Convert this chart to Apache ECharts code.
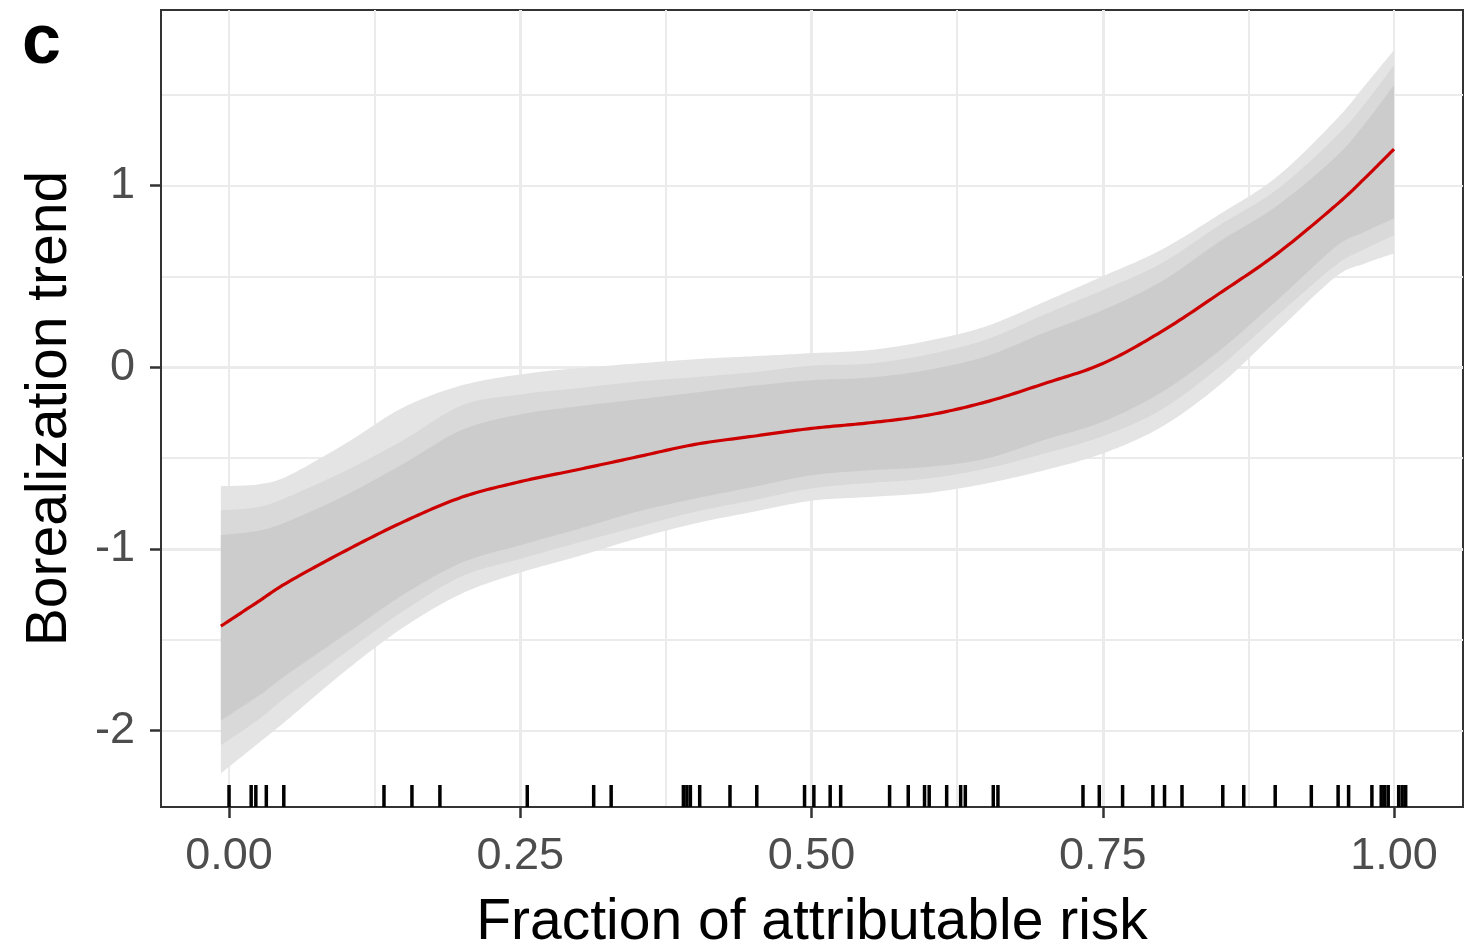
<!DOCTYPE html>
<html>
<head>
<meta charset="utf-8">
<script src="https://cdn.jsdelivr.net/npm/echarts@6/dist/echarts.min.js"></script>
<style>
html,body{margin:0;padding:0;background:#ffffff;}
#chart{width:1472px;height:952px;}
</style>
</head>
<body>
<div id="chart"></div>
<script>
// ---- data ----
const xs        = [-0.007, 0.025, 0.05, 0.1, 0.15, 0.2, 0.25, 0.3, 0.35, 0.4, 0.45, 0.5, 0.55, 0.6, 0.65, 0.7, 0.75, 0.8, 0.85, 0.9, 0.95, 0.975, 1.0];
const fit       = [-1.425, -1.29, -1.185, -1.01, -0.85, -0.715, -0.63, -0.563, -0.494, -0.425, -0.38, -0.337, -0.306, -0.264, -0.191, -0.09, 0.02, 0.194, 0.405, 0.626, 0.89, 1.04, 1.2];
const outerHigh = [-0.655, -0.645, -0.60, -0.42, -0.22, -0.10, -0.04, -0.005, 0.02, 0.044, 0.06, 0.077, 0.094, 0.145, 0.225, 0.36, 0.50, 0.645, 0.84, 1.05, 1.36, 1.55, 1.745];
const midHigh   = [-0.787, -0.77, -0.715, -0.57, -0.40, -0.21, -0.15, -0.115, -0.08, -0.055, -0.028, 0.008, 0.02, 0.07, 0.152, 0.29, 0.424, 0.57, 0.78, 0.98, 1.267, 1.45, 1.662];
const innerHigh = [-0.925, -0.90, -0.85, -0.705, -0.53, -0.345, -0.26, -0.215, -0.178, -0.14, -0.102, -0.072, -0.057, -0.015, 0.06, 0.19, 0.314, 0.47, 0.69, 0.89, 1.157, 1.34, 1.552];
const innerLow  = [-1.943, -1.81, -1.69, -1.47, -1.25, -1.075, -0.98, -0.89, -0.796, -0.723, -0.659, -0.595, -0.567, -0.549, -0.503, -0.40, -0.30, -0.14, 0.09, 0.37, 0.662, 0.745, 0.818];
const midLow    = [-2.08, -1.94, -1.81, -1.57, -1.34, -1.15, -1.055, -0.965, -0.879, -0.796, -0.732, -0.667, -0.637, -0.613, -0.558, -0.475, -0.38, -0.235, 0.0, 0.285, 0.561, 0.65, 0.726];
const outerLow  = [-2.235, -2.07, -1.94, -1.67, -1.43, -1.245, -1.13, -1.04, -0.943, -0.86, -0.796, -0.735, -0.714, -0.692, -0.64, -0.567, -0.475, -0.33, -0.10, 0.20, 0.497, 0.57, 0.626];
const rugX      = [0.000, 0.019, 0.023, 0.032, 0.047, 0.133, 0.157, 0.181, 0.256, 0.313, 0.328, 0.390, 0.393, 0.396, 0.404, 0.430, 0.453, 0.494, 0.502, 0.516, 0.525, 0.567, 0.583, 0.597, 0.601, 0.616, 0.628, 0.632, 0.656, 0.660, 0.733, 0.747, 0.767, 0.793, 0.803, 0.818, 0.853, 0.871, 0.898, 0.929, 0.952, 0.961, 0.981, 0.989, 0.992, 0.995, 1.004, 1.007, 1.010];
const xTicks    = [0, 0.25, 0.5, 0.75, 1];
const yTicks    = [-2, -1, 0, 1];
const X_MIN = -0.0584, X_MAX = 1.0592;
const Y_MIN = -2.42,   Y_MAX = 1.965;

const FONT = 'Liberation Sans, Arial, sans-serif';

// Catmull-Rom sampling in pixel space (rendering only: smooths the drawn outline)
function spline(P) {
  const out = [];
  const n = P.length;
  for (let i = 0; i < n - 1; i++) {
    const p0 = P[Math.max(i - 1, 0)], p1 = P[i], p2 = P[i + 1], p3 = P[Math.min(i + 2, n - 1)];
    const steps = 16;
    for (let s = 0; s < steps; s++) {
      const t = s / steps, t2 = t * t, t3 = t2 * t;
      const f = k => 0.5 * ((2 * p1[k]) + (-p0[k] + p2[k]) * t + (2 * p0[k] - 5 * p1[k] + 4 * p2[k] - p3[k]) * t2 + (-p0[k] + 3 * p1[k] - 3 * p2[k] + p3[k]) * t3);
      out.push([f(0), f(1)]);
    }
  }
  out.push(P[n - 1].slice());
  return out;
}

function bandSeries(name, low, high, color) {
  return {
    type: 'custom', name: name, silent: true, z: 2,
    data: xs.map((x, i) => [x, low[i], high[i]]),
    encode: { x: 0, y: [1, 2] },
    renderItem: function (params, api) {
      if (params.dataIndexInside !== 0) return null;
      const n = params.dataInsideLength;
      const top = [], bot = [];
      for (let j = 0; j < n; j++) {
        const x = api.value(0, j);
        bot.push(api.coord([x, api.value(1, j)]));
        top.push(api.coord([x, api.value(2, j)]));
      }
      const pts = spline(top).concat(spline(bot).reverse());
      return { type: 'polygon', shape: { points: pts }, style: { fill: color, stroke: null } };
    }
  };
}

const chart = echarts.init(document.getElementById('chart'), null, { renderer: 'canvas' });

const option = {
  backgroundColor: '#ffffff',
  animation: false,
  title: {
    text: 'c', left: 17, top: 4,
    textStyle: { fontFamily: FONT, fontSize: 70, fontWeight: 'bold', color: '#000000' }
  },
  grid: {
    left: 161, right: 9, top: 10, bottom: 145,
    show: true, borderColor: '#333333', borderWidth: 2, backgroundColor: '#ffffff',
    containLabel: false, outerBoundsMode: 'none'
  },
  xAxis: [
    {
      type: 'value', min: X_MIN, max: X_MAX, minInterval: 0.25, maxInterval: 0.25,
      name: 'Fraction of attributable risk', nameLocation: 'middle', nameGap: 88,
      nameTextStyle: { fontFamily: FONT, fontSize: 57, color: '#000000' },
      axisLine: { show: true, onZero: false, lineStyle: { color: '#333333', width: 2 } },
      axisTick: { show: true, length: 11, customValues: xTicks, lineStyle: { color: '#333333', width: 2.5 } },
      axisLabel: {
        show: true, margin: 27, customValues: xTicks, fontFamily: FONT, fontSize: 45, color: '#4d4d4d',
        formatter: v => v.toFixed(2)
      },
      splitLine: { show: true, showMinLine: false, showMaxLine: false, lineStyle: { color: '#ebebeb', width: 3 } }
    },
    {
      type: 'value', min: X_MIN, max: X_MAX, minInterval: 0.125, maxInterval: 0.125,
      position: 'top',
      axisLine: { show: false }, axisTick: { show: false }, axisLabel: { show: false },
      splitLine: { show: true, showMinLine: false, showMaxLine: false, lineStyle: { color: '#ebebeb', width: 2 } }
    }
  ],
  yAxis: [
    {
      type: 'value', min: Y_MIN, max: Y_MAX, minInterval: 1, maxInterval: 1,
      name: 'Borealization trend', nameLocation: 'middle', nameGap: 82, nameRotate: 90,
      nameTextStyle: { fontFamily: FONT, fontSize: 57, color: '#000000' },
      axisLine: { show: true, onZero: false, lineStyle: { color: '#333333', width: 2 } },
      axisTick: { show: true, length: 11, customValues: yTicks, lineStyle: { color: '#333333', width: 2.5 } },
      axisLabel: {
        show: true, margin: 26, customValues: yTicks, fontFamily: FONT, fontSize: 45, color: '#4d4d4d',
        formatter: v => String(v)
      },
      splitLine: { show: true, showMinLine: false, showMaxLine: false, lineStyle: { color: '#ebebeb', width: 3 } }
    },
    {
      type: 'value', min: Y_MIN, max: Y_MAX, minInterval: 0.5, maxInterval: 0.5,
      position: 'right',
      axisLine: { show: false }, axisTick: { show: false }, axisLabel: { show: false },
      splitLine: { show: true, showMinLine: false, showMaxLine: false, lineStyle: { color: '#ebebeb', width: 2 } }
    }
  ],
  series: [
    bandSeries('outer', outerLow, outerHigh, '#e4e4e4'),
    bandSeries('mid', midLow, midHigh, '#d9d9d9'),
    bandSeries('inner', innerLow, innerHigh, '#cccccc'),
    {
      type: 'custom', name: 'fit', silent: true, z: 3,
      data: xs.map((x, i) => [x, fit[i]]),
      encode: { x: 0, y: 1 },
      renderItem: function (params, api) {
        if (params.dataIndexInside !== 0) return null;
        const n = params.dataInsideLength;
        const P = [];
        for (let j = 0; j < n; j++) P.push(api.coord([api.value(0, j), api.value(1, j)]));
        return { type: 'polyline', shape: { points: spline(P) }, style: { stroke: '#cd0000', lineWidth: 3.2, fill: null, lineJoin: 'round' } };
      }
    },
    {
      type: 'custom', name: 'rug', z: 4, silent: true, clip: false,
      data: rugX.map(x => [x, Y_MIN]),
      encode: { x: 0, y: 1 },
      renderItem: function (params, api) {
        const p = api.coord([api.value(0), Y_MIN]);
        return {
          type: 'line',
          shape: { x1: p[0], y1: p[1], x2: p[0], y2: p[1] - 22 },
          style: { stroke: '#000000', lineWidth: 3.5 }
        };
      }
    }
  ]
};

chart.setOption(option);
</script>
</body>
</html>
